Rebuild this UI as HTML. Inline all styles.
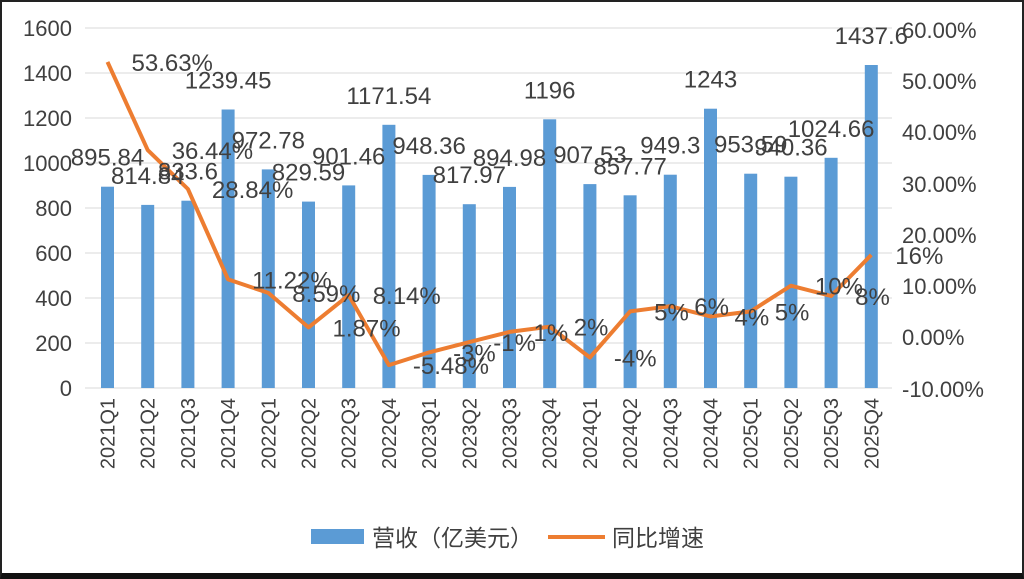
<!DOCTYPE html>
<html><head><meta charset="utf-8"><style>
html,body{margin:0;padding:0;background:#fff;}
#c{position:relative;width:1024px;height:579px;overflow:hidden;background:#fff;box-sizing:border-box;border:2px solid #222;border-bottom:6px solid #111;}
svg{position:absolute;left:-2px;top:-2px;}
text{font-family:"Liberation Sans","Noto Sans CJK SC",sans-serif;fill:#404040;}
</style></head><body><div id="c">
<svg width="1024" height="579" viewBox="0 0 1024 579" xmlns="http://www.w3.org/2000/svg">
<g stroke="#d9d9d9" stroke-width="1">
<line x1="85" x2="892" y1="28" y2="28"/><line x1="85" x2="892" y1="73" y2="73"/>
<line x1="85" x2="892" y1="118" y2="118"/><line x1="85" x2="892" y1="163" y2="163"/>
<line x1="85" x2="892" y1="208" y2="208"/><line x1="85" x2="892" y1="253" y2="253"/>
<line x1="85" x2="892" y1="298" y2="298"/><line x1="85" x2="892" y1="343" y2="343"/>
<line x1="85" x2="892" y1="388" y2="388"/>
</g>
<g font-size="22" text-anchor="end">
<text x="72" y="36">1600</text><text x="72" y="81">1400</text><text x="72" y="126">1200</text>
<text x="72" y="171">1000</text><text x="72" y="216">800</text><text x="72" y="261">600</text>
<text x="72" y="306">400</text><text x="72" y="351">200</text><text x="72" y="396">0</text>
</g>
<g font-size="22">
<text x="902" y="38">60.00%</text><text x="902" y="89">50.00%</text><text x="902" y="140">40.00%</text>
<text x="902" y="192">30.00%</text><text x="902" y="243">20.00%</text><text x="902" y="294">10.00%</text>
<text x="902" y="345">0.00%</text><text x="902" y="397">-10.00%</text>
</g>
<g fill="#5b9bd5">
<rect x="101" y="186.7" width="13" height="201.3"/>
<rect x="141.2" y="204.9" width="13" height="183.1"/>
<rect x="181.4" y="200.7" width="13" height="187.3"/>
<rect x="221.6" y="109.5" width="13" height="278.5"/>
<rect x="261.8" y="169.4" width="13" height="218.6"/>
<rect x="302" y="201.6" width="13" height="186.4"/>
<rect x="342.2" y="185.4" width="13" height="202.6"/>
<rect x="382.4" y="124.8" width="13" height="263.2"/>
<rect x="422.6" y="174.9" width="13" height="213.1"/>
<rect x="462.8" y="204.2" width="13" height="183.8"/>
<rect x="503" y="186.9" width="13" height="201.1"/>
<rect x="543.2" y="119.3" width="13" height="268.7"/>
<rect x="583.4" y="184.1" width="13" height="203.9"/>
<rect x="623.6" y="195.3" width="13" height="192.7"/>
<rect x="663.8" y="174.7" width="13" height="213.3"/>
<rect x="704" y="108.7" width="13" height="279.3"/>
<rect x="744.2" y="173.7" width="13" height="214.3"/>
<rect x="784.4" y="176.7" width="13" height="211.3"/>
<rect x="824.6" y="157.8" width="13" height="230.2"/>
<rect x="864.8" y="65" width="13" height="323"/>
</g>
<polyline fill="none" stroke="#ed7d31" stroke-width="4" stroke-linejoin="round" points="107.5,61.9 147.7,150.1 187.9,189 228.1,279.4 268.3,292.9 308.5,327.4 348.7,295.2 388.9,365.1 429.1,352.4 469.3,342.1 509.5,331.9 549.7,326.7 589.9,357.5 630.1,311.4 670.3,306.2 710.5,316.5 750.7,311.4 790.9,285.7 831.1,296 871.3,254.9"/>
<g font-size="24" text-anchor="middle">
<text x="107.5" y="165.7">895.84</text>
<text x="147.7" y="183.9">814.84</text>
<text x="187.9" y="179.7">833.6</text>
<text x="228.1" y="88.5">1239.45</text>
<text x="268.3" y="148.4">972.78</text>
<text x="308.5" y="180.6">829.59</text>
<text x="348.7" y="164.4">901.46</text>
<text x="388.9" y="103.8">1171.54</text>
<text x="429.1" y="153.9">948.36</text>
<text x="469.3" y="183.2">817.97</text>
<text x="509.5" y="165.9">894.98</text>
<text x="549.7" y="98.3">1196</text>
<text x="589.9" y="163.1">907.53</text>
<text x="630.1" y="174.3">857.77</text>
<text x="670.3" y="153.7">949.3</text>
<text x="710.5" y="87.7">1243</text>
<text x="750.7" y="152.7">953.59</text>
<text x="790.9" y="155.7">940.36</text>
<text x="831.1" y="136.8">1024.66</text>
<text x="871.3" y="44">1437.6</text>
</g>
<g font-size="24">
<text x="131.5" y="70.9">53.63%</text>
<text x="171.7" y="159.1">36.44%</text>
<text x="211.9" y="198">28.84%</text>
<text x="252.1" y="288.4">11.22%</text>
<text x="292.3" y="301.9">8.59%</text>
<text x="332.5" y="336.4">1.87%</text>
<text x="372.7" y="304.2">8.14%</text>
<text x="412.9" y="374.1">-5.48%</text>
<text x="453.1" y="361.4">-3%</text>
<text x="493.3" y="351.1">-1%</text>
<text x="533.5" y="340.9">1%</text>
<text x="573.7" y="335.7">2%</text>
<text x="613.9" y="366.5">-4%</text>
<text x="654.1" y="320.4">5%</text>
<text x="694.3" y="315.2">6%</text>
<text x="734.5" y="325.5">4%</text>
<text x="774.7" y="320.4">5%</text>
<text x="814.9" y="294.7">10%</text>
<text x="855.1" y="305">8%</text>
<text x="895.3" y="263.9">16%</text>
</g>
<g font-size="20" text-anchor="end">
<text transform="translate(114.5,398) rotate(-90)">2021Q1</text>
<text transform="translate(154.7,398) rotate(-90)">2021Q2</text>
<text transform="translate(194.9,398) rotate(-90)">2021Q3</text>
<text transform="translate(235.1,398) rotate(-90)">2021Q4</text>
<text transform="translate(275.3,398) rotate(-90)">2022Q1</text>
<text transform="translate(315.5,398) rotate(-90)">2022Q2</text>
<text transform="translate(355.7,398) rotate(-90)">2022Q3</text>
<text transform="translate(395.9,398) rotate(-90)">2022Q4</text>
<text transform="translate(436.1,398) rotate(-90)">2023Q1</text>
<text transform="translate(476.3,398) rotate(-90)">2023Q2</text>
<text transform="translate(516.5,398) rotate(-90)">2023Q3</text>
<text transform="translate(556.7,398) rotate(-90)">2023Q4</text>
<text transform="translate(596.9,398) rotate(-90)">2024Q1</text>
<text transform="translate(637.1,398) rotate(-90)">2024Q2</text>
<text transform="translate(677.3,398) rotate(-90)">2024Q3</text>
<text transform="translate(717.5,398) rotate(-90)">2024Q4</text>
<text transform="translate(757.7,398) rotate(-90)">2025Q1</text>
<text transform="translate(797.9,398) rotate(-90)">2025Q2</text>
<text transform="translate(838.1,398) rotate(-90)">2025Q3</text>
<text transform="translate(878.3,398) rotate(-90)">2025Q4</text>
</g>
<rect x="311" y="529" width="53" height="15" fill="#5b9bd5"/>
<text x="372" y="546" font-size="23">营收（亿美元）</text>
<line x1="548" x2="605" y1="537" y2="537" stroke="#ed7d31" stroke-width="4"/>
<text x="612" y="546" font-size="23">同比增速</text>
</svg>
</div></body></html>
